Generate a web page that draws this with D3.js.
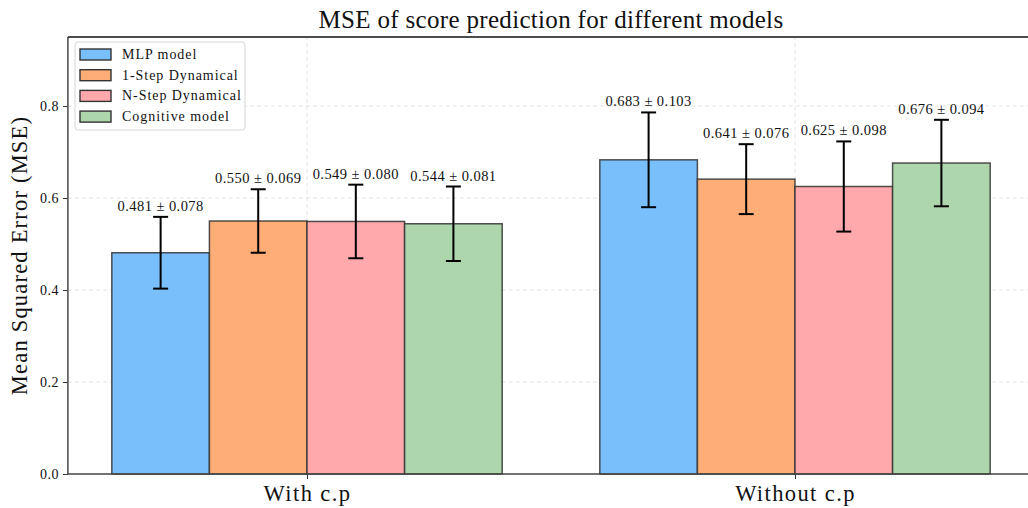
<!DOCTYPE html>
<html>
<head>
<meta charset="utf-8">
<script src="https://cdn.jsdelivr.net/npm/d3@7"></script>
<style>
  html, body { margin: 0; padding: 0; background: #fff; overflow: hidden; }
  svg text { font-family: "Liberation Serif", "DejaVu Serif", serif; fill: #111; }
</style>
</head>
<body>
<svg id="chart" width="1028" height="508"></svg>
<script>
// Groups on the x axis and the four models compared in each
const groups = ["With c.p", "Without c.p"];
const models = ["MLP model", "1-Step Dynamical", "N-Step Dynamical", "Cognitive model"];
const colors = ["#79bffc", "#ffad77", "#ffa9ad", "#add6ad"];

// Mean MSE and its standard deviation, per model, for each group
const meanWithCp     = [0.481, 0.550, 0.549, 0.544];
const stdWithCp      = [0.078, 0.069, 0.080, 0.081];
const meanWithoutCp  = [0.683, 0.641, 0.625, 0.676];
const stdWithoutCp   = [0.103, 0.076, 0.098, 0.094];

const yTicks = [0.0, 0.2, 0.4, 0.6, 0.8];

const means = [meanWithCp, meanWithoutCp];
const stds = [stdWithCp, stdWithoutCp];
const barWidth = 0.2;

const svg = d3.select("#chart");
const x = d3.scaleLinear().domain([-0.49, 1.49]).range([67.9, 1034.1]);
const y = d3.scaleLinear().domain([0, 0.95]).range([474, 37]);

// grid
const grid = svg.append("g");
grid.selectAll("line.hg").data(yTicks.slice(1)).join("line")
  .attr("x1", x.range()[0]).attr("x2", x.range()[1])
  .attr("y1", d => y(d)).attr("y2", d => y(d))
  .attr("stroke", "#e3e3e3").attr("stroke-width", 1).attr("stroke-dasharray", "4,3");
grid.selectAll("line.vg").data(groups.map((g, i) => i)).join("line")
  .attr("x1", d => x(d)).attr("x2", d => x(d))
  .attr("y1", y.range()[0]).attr("y2", y.range()[1])
  .attr("stroke", "#e3e3e3").attr("stroke-width", 1).attr("stroke-dasharray", "4,3");

// bars
const records = [];
groups.forEach((g, gi) => {
  models.forEach((m, mi) => {
    records.push({ gi, mi, mean: means[gi][mi], std: stds[gi][mi] });
  });
});
const cx = d => d.gi + (d.mi - 1.5) * barWidth;

svg.append("g").selectAll("rect").data(records).join("rect")
  .attr("x", d => x(cx(d) - barWidth / 2))
  .attr("y", d => y(d.mean))
  .attr("width", d => x(cx(d) + barWidth / 2) - x(cx(d) - barWidth / 2))
  .attr("height", d => y(0) - y(d.mean))
  .attr("fill", d => colors[d.mi])
  .attr("stroke", "#333").attr("stroke-opacity", 0.85).attr("stroke-width", 1.5);

// error bars
const eb = svg.append("g").attr("stroke", "#000").attr("stroke-width", 2);
eb.selectAll("line.stem").data(records).join("line")
  .attr("x1", d => x(cx(d))).attr("x2", d => x(cx(d)))
  .attr("y1", d => y(d.mean - d.std)).attr("y2", d => y(d.mean + d.std));
eb.selectAll("line.capT").data(records).join("line")
  .attr("x1", d => x(cx(d)) - 7.5).attr("x2", d => x(cx(d)) + 7.5)
  .attr("y1", d => y(d.mean + d.std)).attr("y2", d => y(d.mean + d.std));
eb.selectAll("line.capB").data(records).join("line")
  .attr("x1", d => x(cx(d)) - 7.5).attr("x2", d => x(cx(d)) + 7.5)
  .attr("y1", d => y(d.mean - d.std)).attr("y2", d => y(d.mean - d.std));

// value labels
svg.append("g").selectAll("text").data(records).join("text")
  .attr("x", d => x(cx(d)))
  .attr("y", d => y(d.mean + d.std) - 6)
  .attr("text-anchor", "middle")
  .attr("font-size", 14.5).attr("letter-spacing", 0.45)
  .text(d => `${d.mean.toFixed(3)} \u00b1 ${d.std.toFixed(3)}`);

// axes
const yAxis = d3.axisLeft(y).tickValues(yTicks).tickFormat(d3.format(".1f")).tickSize(5).tickPadding(4);
const gy = svg.append("g").attr("transform", `translate(${x.range()[0]},0)`).call(yAxis);
gy.select(".domain").remove();
gy.selectAll(".tick line").attr("stroke", "#333");
gy.selectAll(".tick text").attr("font-size", 14).attr("letter-spacing", 0.5)
  .attr("font-family", "Liberation Serif, serif").attr("fill", "#222");

const xAxis = d3.axisBottom(x).tickValues([0, 1]).tickFormat(i => groups[i]).tickSize(5).tickPadding(6);
const gx = svg.append("g").attr("transform", `translate(0,${y(0)})`).call(xAxis);
gx.select(".domain").remove();
gx.selectAll(".tick line").attr("stroke", "#333");
gx.selectAll(".tick text").attr("font-size", 22.5).attr("letter-spacing", 1.4)
  .attr("font-family", "Liberation Serif, serif").attr("fill", "#111");

// spines
const sp = svg.append("g").attr("fill", "none").attr("stroke-width", 1.6);
sp.append("line").attr("x1", x.range()[0]).attr("x2", x.range()[0])
  .attr("y1", y.range()[0]).attr("y2", y.range()[1]).attr("stroke", "#555");
sp.append("line").attr("x1", x.range()[0]).attr("x2", x.range()[1])
  .attr("y1", y(0)).attr("y2", y(0)).attr("stroke", "#444");
sp.append("line").attr("x1", x.range()[0]).attr("x2", x.range()[1])
  .attr("y1", y.range()[1]).attr("y2", y.range()[1]).attr("stroke", "#111");
sp.append("line").attr("x1", x.range()[1]).attr("x2", x.range()[1])
  .attr("y1", y.range()[0]).attr("y2", y.range()[1]).attr("stroke", "#111");

// title and axis label
svg.append("text").attr("x", (x.range()[0] + x.range()[1]) / 2).attr("y", 28)
  .attr("text-anchor", "middle").attr("font-size", 25).attr("letter-spacing", 0.32)
  .text("MSE of score prediction for different models");
svg.append("text")
  .attr("transform", `translate(27,${(y.range()[0] + y.range()[1]) / 2}) rotate(-90)`)
  .attr("text-anchor", "middle").attr("font-size", 22.5).attr("letter-spacing", 1.2)
  .text("Mean Squared Error (MSE)");

// legend
const lg = svg.append("g").attr("transform", "translate(75,42)");
lg.append("rect").attr("width", 170).attr("height", 88).attr("rx", 3)
  .attr("fill", "#fff").attr("fill-opacity", 0.85).attr("stroke", "#d5d5d5");
const items = lg.selectAll("g.item").data(models).join("g")
  .attr("transform", (d, i) => `translate(5,${7 + i * 20.7})`);
items.append("rect").attr("width", 31).attr("height", 11)
  .attr("fill", (d, i) => colors[i]).attr("stroke", "#333").attr("stroke-width", 1.4);
items.append("text").attr("x", 42).attr("y", 10).attr("font-size", 14).attr("letter-spacing", 0.95).text(d => d);
</script>
</body>
</html>
